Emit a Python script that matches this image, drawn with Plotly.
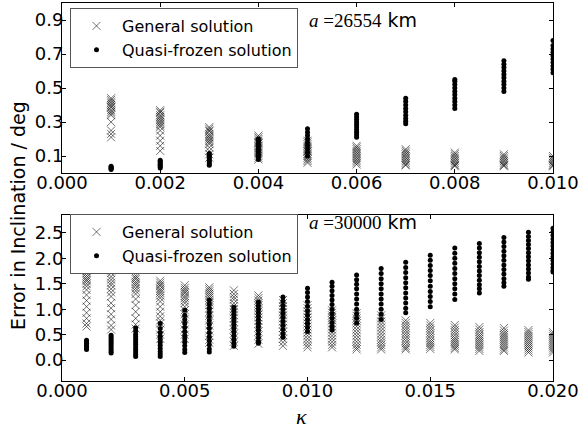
import plotly.graph_objects as go

# ---------------- data ----------------
kappa_top = [0.001, 0.002, 0.003, 0.004, 0.005, 0.006, 0.007, 0.008, 0.009, 0.010]
general_top = [
    [0.44, 0.43, 0.42, 0.41, 0.40, 0.39, 0.385, 0.37, 0.36, 0.35, 0.34, 0.30, 0.25, 0.23, 0.21],
    [0.37, 0.36, 0.355, 0.34, 0.33, 0.32, 0.31, 0.30, 0.29, 0.28, 0.27, 0.25, 0.22, 0.19, 0.16, 0.13],
    [0.27, 0.26, 0.25, 0.245, 0.23, 0.22, 0.21, 0.20, 0.19, 0.18, 0.17, 0.15, 0.13, 0.11, 0.09],
    [0.22, 0.21, 0.20, 0.19, 0.18, 0.175, 0.16, 0.15, 0.14, 0.13, 0.12, 0.11, 0.10, 0.09, 0.08],
    [0.19, 0.18, 0.17, 0.16, 0.15, 0.14, 0.13, 0.125, 0.11, 0.10, 0.09, 0.08, 0.07, 0.06],
    [0.16, 0.15, 0.14, 0.13, 0.12, 0.11, 0.10, 0.09, 0.08, 0.07, 0.06, 0.05],
    [0.14, 0.13, 0.12, 0.11, 0.10, 0.09, 0.08, 0.07, 0.06, 0.05, 0.045],
    [0.12, 0.11, 0.10, 0.09, 0.08, 0.07, 0.06, 0.05, 0.045, 0.04],
    [0.11, 0.10, 0.09, 0.08, 0.07, 0.06, 0.05, 0.045, 0.04],
    [0.10, 0.09, 0.08, 0.07, 0.06, 0.05, 0.045, 0.04],
]
quasi_top = [
    [0.020, 0.025, 0.030, 0.035, 0.040],
    [0.030, 0.037, 0.045, 0.052, 0.060, 0.068, 0.075],
    [0.045, 0.055, 0.065, 0.075, 0.085, 0.095, 0.105, 0.115],
    [0.08, 0.095, 0.11, 0.125, 0.14, 0.155, 0.17, 0.185, 0.20],
    [0.10, 0.12, 0.14, 0.16, 0.18, 0.20, 0.22, 0.24, 0.26],
    [0.21, 0.225, 0.24, 0.255, 0.27, 0.285, 0.30, 0.315, 0.33, 0.345],
    [0.29, 0.305, 0.32, 0.34, 0.36, 0.38, 0.40, 0.42, 0.44],
    [0.38, 0.40, 0.42, 0.44, 0.46, 0.48, 0.50, 0.52, 0.54, 0.55],
    [0.48, 0.50, 0.52, 0.54, 0.56, 0.58, 0.60, 0.62, 0.64, 0.66],
    [0.59, 0.61, 0.63, 0.65, 0.67, 0.69, 0.71, 0.73, 0.75, 0.78],
]

kappa_bot = [0.001, 0.002, 0.003, 0.004, 0.005, 0.006, 0.007, 0.008, 0.009, 0.010,
             0.011, 0.012, 0.013, 0.014, 0.015, 0.016, 0.017, 0.018, 0.019, 0.020]
general_bot = [
    [1.80, 1.75, 1.71, 1.66, 1.62, 1.58, 1.55, 1.50, 1.45, 1.38, 1.28, 1.17, 1.05, 0.93, 0.82, 0.72, 0.66],
    [1.90, 1.82, 1.76, 1.71, 1.64, 1.58, 1.52, 1.47, 1.40, 1.33, 1.25, 1.12, 1.02, 0.90, 0.80, 0.68, 0.60],
    [1.66, 1.62, 1.59, 1.54, 1.50, 1.46, 1.41, 1.36, 1.30, 1.20, 1.08, 0.95, 0.82, 0.70, 0.62],
    [1.56, 1.52, 1.48, 1.45, 1.40, 1.36, 1.32, 1.27, 1.22, 1.15, 1.05, 0.95, 0.86, 0.78, 0.72, 0.60, 0.50, 0.42],
    [1.47, 1.42, 1.38, 1.34, 1.31, 1.26, 1.22, 1.17, 1.12, 1.05, 0.98, 0.90, 0.80, 0.70, 0.60, 0.50, 0.42],
    [1.43, 1.39, 1.35, 1.31, 1.27, 1.23, 1.18, 1.13, 1.08, 1.02, 0.95, 0.87, 0.78, 0.68, 0.58, 0.48, 0.40, 0.34],
    [1.37, 1.30, 1.24, 1.19, 1.12, 1.06, 1.00, 0.94, 0.88, 0.82, 0.75, 0.68, 0.60, 0.52, 0.44, 0.36, 0.28],
    [1.27, 1.22, 1.17, 1.12, 1.07, 1.02, 0.96, 0.90, 0.84, 0.78, 0.71, 0.64, 0.56, 0.48, 0.40, 0.32],
    [1.18, 1.12, 1.06, 1.00, 0.94, 0.88, 0.82, 0.76, 0.70, 0.63, 0.56, 0.49, 0.42, 0.35, 0.28],
    [1.08, 1.02, 0.96, 0.90, 0.84, 0.78, 0.72, 0.66, 0.60, 0.54, 0.48, 0.42, 0.36, 0.30, 0.25],
    [0.98, 0.93, 0.88, 0.83, 0.78, 0.72, 0.66, 0.60, 0.54, 0.48, 0.42, 0.36, 0.30, 0.25],
    [0.92, 0.87, 0.82, 0.77, 0.72, 0.66, 0.60, 0.54, 0.48, 0.42, 0.36, 0.30, 0.25, 0.21],
    [0.88, 0.82, 0.76, 0.70, 0.64, 0.58, 0.52, 0.46, 0.40, 0.35, 0.30, 0.25, 0.21],
    [0.78, 0.73, 0.68, 0.63, 0.58, 0.53, 0.48, 0.43, 0.38, 0.33, 0.28, 0.24, 0.21],
    [0.73, 0.68, 0.63, 0.58, 0.53, 0.48, 0.43, 0.38, 0.34, 0.30, 0.26, 0.22],
    [0.69, 0.64, 0.59, 0.54, 0.49, 0.44, 0.40, 0.36, 0.32, 0.28, 0.24, 0.21],
    [0.65, 0.60, 0.55, 0.50, 0.46, 0.42, 0.38, 0.34, 0.30, 0.26, 0.22, 0.18],
    [0.63, 0.58, 0.53, 0.49, 0.45, 0.41, 0.37, 0.33, 0.29, 0.25, 0.21, 0.18],
    [0.59, 0.55, 0.51, 0.47, 0.43, 0.39, 0.35, 0.31, 0.27, 0.23, 0.19, 0.15],
    [0.55, 0.51, 0.47, 0.43, 0.39, 0.35, 0.31, 0.27, 0.23, 0.19, 0.15],
]
quasi_bot = [
    [0.39, 0.36, 0.33, 0.30, 0.27, 0.24, 0.21],
    [0.49, 0.45, 0.41, 0.37, 0.33, 0.29, 0.25, 0.21, 0.17, 0.14],
    [0.63, 0.57, 0.51, 0.46, 0.41, 0.36, 0.31, 0.26, 0.21, 0.16, 0.11, 0.07],
    [0.72, 0.62, 0.54, 0.47, 0.41, 0.35, 0.29, 0.23, 0.17, 0.12, 0.07],
    [0.98, 0.88, 0.80, 0.72, 0.64, 0.56, 0.49, 0.42, 0.35, 0.28, 0.21, 0.15],
    [1.18, 1.10, 1.02, 0.94, 0.86, 0.78, 0.70, 0.62, 0.54, 0.46, 0.38, 0.30, 0.22, 0.16],
    [1.04, 0.97, 0.90, 0.83, 0.76, 0.69, 0.62, 0.55, 0.48, 0.41, 0.34, 0.27],
    [1.14, 1.07, 1.00, 0.93, 0.86, 0.79, 0.72, 0.65, 0.58, 0.51, 0.44, 0.37, 0.33],
    [1.24, 1.16, 1.08, 1.00, 0.92, 0.84, 0.76, 0.68, 0.60, 0.52, 0.45],
    [1.41, 1.33, 1.24, 1.15, 1.06, 0.97, 0.88, 0.80, 0.72, 0.64, 0.56],
    [1.53, 1.45, 1.36, 1.27, 1.18, 1.09, 1.00, 0.91, 0.82, 0.74, 0.66, 0.59],
    [1.67, 1.58, 1.49, 1.40, 1.30, 1.20, 1.10, 1.00, 0.91, 0.82, 0.73],
    [1.80, 1.70, 1.60, 1.50, 1.40, 1.30, 1.20, 1.10, 1.00, 0.90, 0.80],
    [1.92, 1.82, 1.72, 1.62, 1.52, 1.42, 1.32, 1.22, 1.12, 1.02, 0.93],
    [2.06, 1.96, 1.86, 1.76, 1.66, 1.56, 1.45, 1.35, 1.25, 1.15, 1.05],
    [2.20, 2.10, 2.00, 1.90, 1.80, 1.70, 1.60, 1.50, 1.40, 1.30, 1.19],
    [2.29, 2.20, 2.11, 2.02, 1.93, 1.84, 1.75, 1.66, 1.57, 1.48, 1.40, 1.32],
    [2.41, 2.32, 2.23, 2.14, 2.05, 1.96, 1.87, 1.78, 1.69, 1.60, 1.52, 1.45],
    [2.51, 2.43, 2.35, 2.27, 2.19, 2.11, 2.03, 1.95, 1.87, 1.79, 1.71, 1.63, 1.59],
    [2.59, 2.52, 2.45, 2.38, 2.31, 2.24, 2.17, 2.10, 2.03, 1.96, 1.89, 1.82, 1.76, 1.73],
]

top_ticks_x = [0.000, 0.002, 0.004, 0.006, 0.008, 0.010]
top_ticks_x_text = ["0.000", "0.002", "0.004", "0.006", "0.008", "0.010"]
top_ticks_y = [0.1, 0.3, 0.5, 0.7, 0.9]
bot_ticks_x = [0.000, 0.005, 0.010, 0.015, 0.020]
bot_ticks_x_text = ["0.000", "0.005", "0.010", "0.015", "0.020"]
bot_ticks_y = [0.0, 0.5, 1.0, 1.5, 2.0, 2.5]

label_general = "General solution"
label_quasi = "Quasi-frozen solution"


def flatten(ks, cols):
    xs, ys = [], []
    for k, col in zip(ks, cols):
        for v in col:
            xs.append(k)
            ys.append(v)
    return xs, ys


W, H = 582, 429
FONT = "DejaVu Sans"
cross_color = "rgba(0,0,0,0.55)"

fig = go.Figure()

for (ks, gen, qf, xa, ya, leg) in [
    (kappa_top, general_top, quasi_top, "x", "y", "legend"),
    (kappa_bot, general_bot, quasi_bot, "x2", "y2", "legend2"),
]:
    gx, gy = flatten(ks, gen)
    qx, qy = flatten(ks, qf)
    fig.add_trace(go.Scatter(
        x=gx, y=gy, mode="markers", name=label_general, xaxis=xa, yaxis=ya, legend=leg,
        marker=dict(symbol="x-thin", size=8, color=cross_color,
                    line=dict(width=1, color=cross_color)),
    ))
    fig.add_trace(go.Scatter(
        x=qx, y=qy, mode="markers", name=label_quasi, xaxis=xa, yaxis=ya, legend=leg,
        marker=dict(symbol="circle", size=5, color="black", line=dict(width=0)),
    ))

xdom = [62 / W, 553 / W]
axis_common = dict(showline=True, linecolor="black", linewidth=1, mirror="ticks",
                   ticks="inside", ticklen=4, tickcolor="black", showgrid=False,
                   zeroline=False, automargin=False,
                   tickfont=dict(family=FONT, size=18, color="black"))

fig.update_layout(
    width=W, height=H,
    margin=dict(l=0, r=0, t=0, b=0, autoexpand=False),
    paper_bgcolor="white", plot_bgcolor="white",
    font=dict(family=FONT, color="black"),
    xaxis=dict(domain=xdom, range=[0, 0.010], anchor="y", ticklabelstandoff=-7,
               tickvals=top_ticks_x, ticktext=top_ticks_x_text, **axis_common),
    yaxis=dict(domain=[1 - 173 / H, 1 - 3 / H], range=[0.0, 1.0], anchor="x",
               ticklabelstandoff=-6, tickvals=top_ticks_y, **axis_common),
    xaxis2=dict(domain=xdom, range=[0, 0.020], anchor="y2", ticklabelstandoff=-7,
                tickvals=bot_ticks_x, ticktext=bot_ticks_x_text, **axis_common),
    yaxis2=dict(domain=[1 - 381 / H, 1 - 215 / H], range=[-0.41, 2.85], anchor="x2",
                ticklabelstandoff=-6, tickvals=bot_ticks_y, tickformat=".1f", **axis_common),
    legend=dict(x=70 / W, y=1 - 8 / H, xanchor="left", yanchor="top",
                bgcolor="white", bordercolor="#555555", borderwidth=1,
                font=dict(family=FONT, size=16, color="black"), itemwidth=41),
    legend2=dict(x=70 / W, y=1 - 214 / H, xanchor="left", yanchor="top",
                 bgcolor="white", bordercolor="#555555", borderwidth=1,
                 font=dict(family=FONT, size=16, color="black"), itemwidth=41),
    showlegend=True,
)

serif = "Liberation Serif"
for txt, ypx in [("26554", 20), ("30000", 222)]:
    fig.add_annotation(
        xref="paper", yref="paper", x=307 / W, y=1 - ypx / H, xanchor="left", yanchor="middle",
        showarrow=False,
        text=f"<span style='font-family:{serif}'><i>a</i> ={txt}</span> km",
        font=dict(family=FONT, size=19, color="black"),
    )

fig.add_annotation(
    xref="paper", yref="paper", x=18 / W, y=1 - 216 / H, xanchor="center", yanchor="middle",
    showarrow=False, textangle=-90, text="Error in Inclination / deg",
    font=dict(family=FONT, size=19, color="black"),
)
fig.add_annotation(
    xref="paper", yref="paper", x=301 / W, y=1 - 416 / H, xanchor="center", yanchor="middle",
    showarrow=False, text="<i>κ</i>",
    font=dict(family=serif, size=22, color="black"),
)

fig.write_html("out.html", config={"displayModeBar": False},
               post_script="document.body.style.margin='0px';")
